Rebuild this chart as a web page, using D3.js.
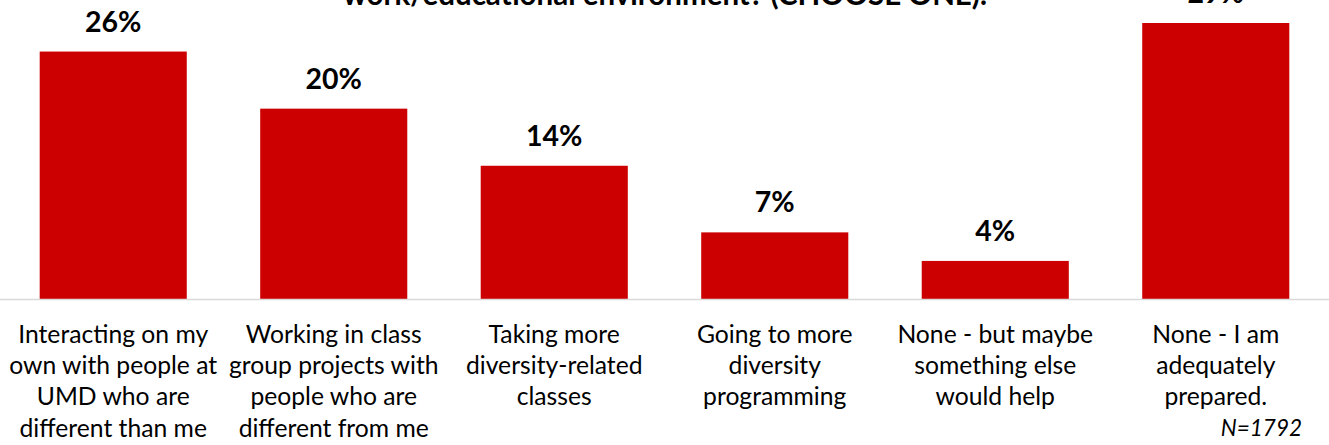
<!DOCTYPE html>
<html>
<head>
<meta charset="utf-8">
<script src="https://cdn.jsdelivr.net/npm/d3@7"></script>
<style>
  html, body { margin: 0; padding: 0; background: #ffffff; }
  svg { display: block; }
</style>
</head>
<body>
<div id="chart"></div>
<script>
// ---- data ----
const categories = [
  "Interacting on my own with people at UMD who are different than me",
  "Working in class group projects with people who are different from me",
  "Taking more diversity-related classes",
  "Going to more diversity programming",
  "None - but maybe something else would help",
  "None - I am adequately prepared."
];
const categoryLines = [
  ["Interacting on my", "own with people at", "UMD who are", "different than me"],
  ["Working in class", "group projects with", "people who are", "different from me"],
  ["Taking more", "diversity-related", "classes"],
  ["Going to more", "diversity", "programming"],
  ["None - but maybe", "something else", "would help"],
  ["None - I am", "adequately", "prepared."]
];
const values = [26, 20, 14, 7, 4, 29];
const titleText = "work/educational environment? (CHOOSE ONE).";
const noteText = "N=1792";

// ---- layout ----
const W = 1329, H = 445;
const baseY = 299;
const font = "Lato, 'Open Sans', sans-serif";

const svg = d3.select("#chart").append("svg")
  .attr("width", W).attr("height", H);

const x = d3.scaleBand()
  .domain(categories)
  .range([0, W])
  .paddingInner(0.333)
  .paddingOuter(0.18);

const y = d3.scaleLinear()
  .domain([0, 29])
  .range([baseY, baseY - 276]);

// title (upper lines are off the visible area)
svg.append("text")
  .attr("x", 665).attr("y", 5)
  .attr("text-anchor", "middle")
  .attr("font-family", font)
  .attr("font-weight", "bold")
  .attr("font-size", 29.5)
  .attr("fill", "#000")
  .text(titleText);

// bars
svg.selectAll("rect.bar")
  .data(values)
  .enter().append("rect")
  .attr("class", "bar")
  .attr("x", (d, i) => x(categories[i]))
  .attr("y", d => y(d))
  .attr("width", x.bandwidth())
  .attr("height", d => y(0) - y(d))
  .attr("fill", "#CC0000");

// baseline axis
svg.append("line")
  .attr("x1", 0).attr("x2", W)
  .attr("y1", y(0) + 0.5).attr("y2", y(0) + 0.5)
  .attr("stroke", "#D9D9D9")
  .attr("stroke-width", 1.5);

// value labels
svg.selectAll("text.val")
  .data(values)
  .enter().append("text")
  .attr("class", "val")
  .attr("x", (d, i) => x(categories[i]) + x.bandwidth() / 2)
  .attr("y", d => y(d) - 20)
  .attr("text-anchor", "middle")
  .attr("font-family", font)
  .attr("font-weight", "bold")
  .attr("font-size", 28.5)
  .attr("fill", "#000")
  .text(d => d + "%");

// category labels
const cat = svg.selectAll("text.cat")
  .data(categoryLines)
  .enter().append("text")
  .attr("class", "cat")
  .attr("text-anchor", "middle")
  .attr("font-family", font)
  .attr("font-size", 24.7)
  .attr("fill", "#000");
cat.each(function(lines, i) {
  const cx = x(categories[i]) + x.bandwidth() / 2;
  d3.select(this).selectAll("tspan")
    .data(lines)
    .enter().append("tspan")
    .attr("x", cx)
    .attr("y", (l, j) => 343 + j * 31.2)
    .text(l => l);
});

// note
svg.append("text")
  .attr("x", 1302).attr("y", 436)
  .attr("text-anchor", "end")
  .attr("font-family", font)
  .attr("font-style", "italic")
  .attr("font-size", 22.5)
  .attr("fill", "#000")
  .text(noteText);
</script>
</body>
</html>
